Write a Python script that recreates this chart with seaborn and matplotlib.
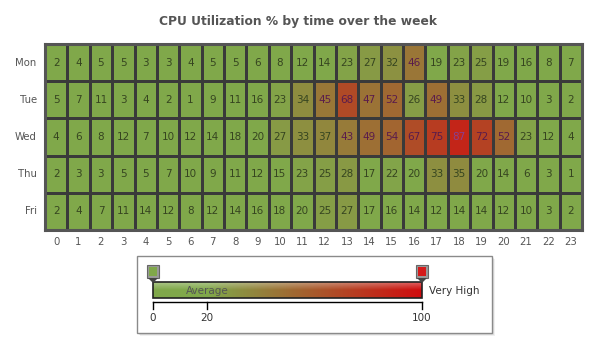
import numpy as np
import pandas as pd
import seaborn as sns
import matplotlib
matplotlib.use("Agg")
import matplotlib.pyplot as plt
from matplotlib.colors import LinearSegmentedColormap
from matplotlib.patches import Rectangle, Polygon

days = ["Mon", "Tue", "Wed", "Thu", "Fri"]
hours = [str(h) for h in range(24)]

mon = [2, 4, 5, 5, 3, 3, 4, 5, 5, 6, 8, 12, 14, 23, 27, 32, 46, 19, 23, 25, 19, 16, 8, 7]
tue = [5, 7, 11, 3, 4, 2, 1, 9, 11, 16, 23, 34, 45, 68, 47, 52, 26, 49, 33, 28, 12, 10, 3, 2]
wed = [4, 6, 8, 12, 7, 10, 12, 14, 18, 20, 27, 33, 37, 43, 49, 54, 67, 75, 87, 72, 52, 23, 12, 4]
thu = [2, 3, 3, 5, 5, 7, 10, 9, 11, 12, 15, 23, 25, 28, 17, 22, 20, 33, 35, 20, 14, 6, 3, 1]
fri = [2, 4, 7, 11, 14, 12, 8, 12, 14, 16, 18, 20, 25, 27, 17, 16, 14, 12, 14, 14, 12, 10, 3, 2]

scale_min, scale_avg, scale_max = 0, 20, 100
legend_ticks = [0, 20, 100]
legend_labels = ["Average", "Very High"]

GREEN = "#80a84a"
RED = "#d00c0e"
TXT = "#555555"

df = pd.DataFrame([mon, tue, wed, thu, fri], index=days, columns=hours)

cmap = LinearSegmentedColormap.from_list(
    "cpu",
    [(0.0, GREEN), ((scale_avg - scale_min) / (scale_max - scale_min), GREEN), (1.0, RED)],
)

W, H = 596, 347
fig = plt.figure(figsize=(W / 100, H / 100), dpi=100)
fig.patch.set_facecolor("white")

# heatmap area in pixels: x 45..582, y 44..230
ax = fig.add_axes([45 / W, 1 - 230 / H, (582 - 45) / W, (230 - 44) / H])
sns.heatmap(
    df, ax=ax, cmap=cmap, vmin=scale_min, vmax=scale_max, annot=True, fmt="d",
    cbar=False, linewidths=0.75, linecolor="#3a3a3a",
    annot_kws={"fontsize": 7.5, "family": "DejaVu Sans"},
)
for t in ax.texts:
    v = int(t.get_text())
    if v >= 80:
        t.set_color("#8a3f8f")
    elif v >= 40:
        t.set_color("#5a1b4c")
    else:
        t.set_color("#364520")

for s in ax.spines.values():
    s.set_visible(True)
    s.set_color("#555555")
    s.set_linewidth(2.2)

ax.tick_params(axis="both", length=0, labelsize=7.3, labelcolor=TXT)
ax.tick_params(axis="x", pad=5)
ax.tick_params(axis="y", pad=6)
ax.set_xticklabels(hours, rotation=0)
ax.set_yticklabels(days, rotation=0)
ax.set_xlabel("")
ax.set_ylabel("")

fig.text(0.5, 1 - 21 / H, "CPU Utilization % by time over the week",
         ha="center", va="center", fontsize=8.8, fontweight="bold", color=TXT)

# legend drawn in pixel coordinates
ov = fig.add_axes([0, 0, 1, 1], zorder=5)
ov.set_xlim(0, W)
ov.set_ylim(H, 0)
ov.axis("off")
ov.patch.set_alpha(0)

# box with soft shadow
for i, a in enumerate([0.10, 0.08, 0.06]):
    ov.add_patch(Rectangle((137 + 1 + i, 256 + 1 + i), 355, 77, facecolor="black",
                           alpha=a, edgecolor="none"))
ov.add_patch(Rectangle((137, 256), 355, 77, facecolor="white", edgecolor="#8a8a8a", lw=1))

bx0, bx1, by0, by1 = 153, 422, 282, 298


def bx(v):
    return bx0 + (v - scale_min) / (scale_max - scale_min) * (bx1 - bx0)


grad = np.linspace(scale_min, scale_max, 400)[None, :]
ov.imshow(grad, cmap=cmap, vmin=scale_min, vmax=scale_max, aspect="auto",
          extent=(bx0, bx1, by1, by0), zorder=6)
# gloss on upper half
gloss = np.linspace(0.35, 0.0, 50)[:, None] * np.ones((1, 2))
white = np.ones((50, 2, 4))
white[..., 3] = gloss
ov.imshow(white, aspect="auto", extent=(bx0, bx1, by0 + 8, by0), zorder=7)
ov.add_patch(Rectangle((bx0, by0), bx1 - bx0, by1 - by0, facecolor="none",
                       edgecolor="#222222", lw=1.2, zorder=8))

# scale axis
ov.plot([bx(scale_min), bx(scale_max)], [302, 302], color="black", lw=1, zorder=8)
for v in legend_ticks:
    ov.plot([bx(v), bx(v)], [302, 309], color="black", lw=1, zorder=8)
    ov.text(bx(v), 318, str(v), ha="center", va="center", fontsize=7.5, color="#333333")

ov.text(bx(scale_avg), 291, legend_labels[0], ha="center", va="center",
        fontsize=7.5, color=TXT, zorder=9)
ov.text(bx1 + 7, 291, legend_labels[1], ha="left", va="center",
        fontsize=7.5, color="#333333", zorder=9)

# slider handles at both ends
for v, c in [(scale_min, GREEN), (scale_max, "#d41a1a")]:
    x = bx(v)
    ov.add_patch(Rectangle((x - 6, 265), 12, 13, facecolor="#9a9a9a",
                           edgecolor="#666666", lw=0.8, zorder=9))
    ov.add_patch(Rectangle((x - 4, 267), 8, 9, facecolor=c, edgecolor="none", zorder=10))
    ov.add_patch(Polygon([(x - 5, 278), (x + 5, 278), (x, 283)], closed=True,
                         facecolor="#444444", edgecolor="none", zorder=10))

fig.savefig("out.png", dpi=100, facecolor="white")
